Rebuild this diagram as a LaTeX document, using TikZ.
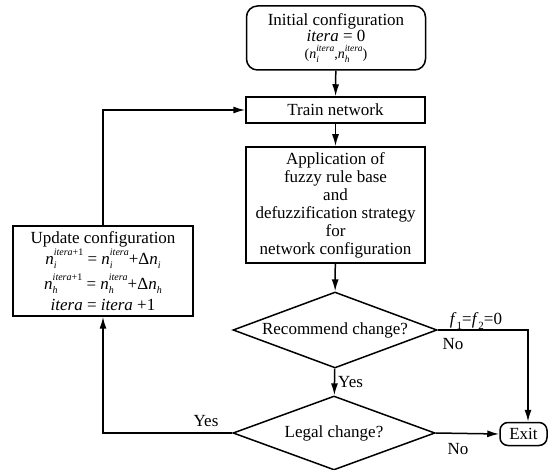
\documentclass[tikz,border=0pt]{standalone}
\usepackage{fontspec}
\setmainfont{Liberation Serif}
\usetikzlibrary{shapes.geometric,arrows.meta}
\newcommand{\iv}[1]{\textit{#1}}
% #1 script size, #2 base, #3 subscript, #4 superscript
\newcommand{\ns}[4]{\textit{#2}\rlap{\raisebox{-0.25em}{\fontsize{#1}{#1}\selectfont\textit{#3}}}\raisebox{0.5em}{\fontsize{#1}{#1}\selectfont #4}}
\newcommand{\nsub}[3]{\textit{#2}\raisebox{-0.25em}{\fontsize{#1}{#1}\selectfont #3}}
\begin{document}
\begin{tikzpicture}[x=1pt,y=-1pt,
  every node/.style={font=\fontsize{17}{18}\selectfont},
  box/.style={draw, line width=1.5pt, inner sep=0pt, align=center},
  dia/.style={draw, diamond, line width=1.5pt, inner sep=0pt, aspect=2.7},
  arr/.style={-{Latex[length=12pt,width=7pt]}, line width=1.5pt},
  lbl/.style={inner sep=1pt}]
\useasboundingbox (0,0) rectangle (549,470);

\node[box, rounded corners=11pt, minimum width=179pt, minimum height=64pt] (init) at (336,38)
  {Initial configuration\\[-2pt] \iv{itera} = 0\\[-1pt]
   {\fontsize{14}{15}\selectfont (\ns{9.5}{n}{i}{\iv{itera}},\ns{9.5}{n}{h}{\iv{itera}})}};
\node[box, minimum width=179pt, minimum height=26pt] (train) at (335.5,110) {Train network};
\node[box, minimum width=179pt, minimum height=116pt] (app) at (335.5,205)
  {Application of\\ fuzzy rule base\\ and\\ defuzzification strategy\\ for\\ network configuration};
\node[dia, minimum width=204pt, minimum height=76pt] (rec) at (335,330) {Recommend change?};
\node[dia, minimum width=202pt, minimum height=74pt] (legal) at (334,433) {Legal change?};
\node[box, rounded corners=8pt, minimum width=47pt, minimum height=23pt] (exit) at (523.5,434) {Exit};
\node[box, minimum width=180pt, minimum height=90pt] (upd) at (103,271)
  {Update configuration\\[1pt]
   \ns{10}{n}{i}{\iv{itera}+1} = \ns{10}{n}{i}{\iv{itera}}+Δ\nsub{10}{n}{\iv{i}}\\[4.5pt]
   \ns{10}{n}{h}{\iv{itera}+1} = \ns{10}{n}{h}{\iv{itera}}+Δ\nsub{10}{n}{\iv{h}}\\[3pt]
   \iv{itera} = \iv{itera} +1};

\draw[arr] (init) -- (train);
\draw[arr] (train) -- (app);
\draw[arr] (app) -- (rec);
\draw[arr] (rec) -- node[lbl, right, xshift=2pt] (yes1) {Yes} (legal);
\coordinate (c1) at (528,0);
\draw[arr] (rec.east) -| (c1 |- exit.north);
\node[lbl] (f) at (476,321) {\nsub{11}{f}{1}=\nsub{11}{f}{2}=0};
\node[lbl] (no1) at (453,344) {No};
\draw[arr] (legal.east) -- (exit.west);
\node[lbl] (no2) at (458,449) {No};
\draw[arr] (legal.west) -| (upd.south);
\node[lbl] (yes2) at (206,421) {Yes};
\draw[arr] (upd.north) |- (train.west);
\end{tikzpicture}
\end{document}
